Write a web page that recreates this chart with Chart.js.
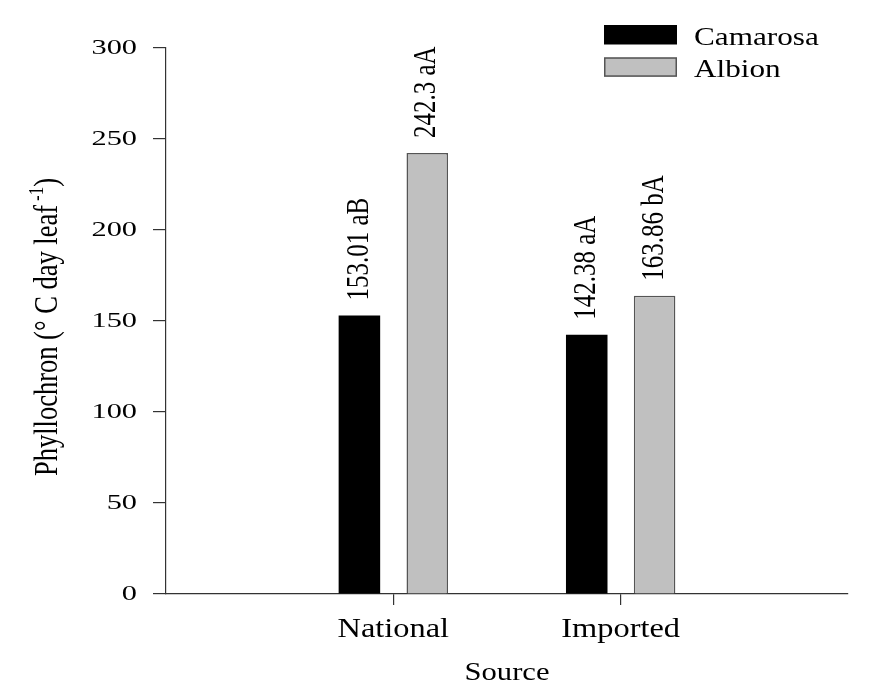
<!DOCTYPE html>
<html>
<head>
<meta charset="utf-8">
<script src="https://cdn.jsdelivr.net/npm/chart.js@4/dist/chart.umd.min.js"></script>
<style>
  body { margin: 0; background: #fff; }
  #chart_container { width: 890px; height: 686px; }
</style>
</head>
<body>
<div id="chart_container"><canvas id="myChart" width="890" height="686"></canvas></div>
<script>
/* data */
const categories = ['National', 'Imported'];
const camarosa = [153.01, 142.38];
const albion = [242.3, 163.86];
const camarosaTags = ['153.01 aB', '142.38 aA'];
const albionTags = ['242.3 aA', '163.86 bA'];
const yTicks = [0, 50, 100, 150, 200, 250, 300];

/* empty slots at both ends so the two groups sit at 1/3 and 2/3 of the axis */
const axisLabels = [''].concat(categories, ['']);
const serif = '"Liberation Serif", "Times New Roman", serif';

/* the original text is a bit wide, so stretch it sideways */
function drawText(ctx, text, x, y, size, sx, align, baseline) {
    ctx.save();
    ctx.translate(x, y);
    ctx.scale(sx, 1);
    ctx.font = size + 'px ' + serif;
    ctx.textAlign = align;
    ctx.textBaseline = baseline;
    ctx.fillStyle = '#000';
    ctx.fillText(text, 0, 0);
    ctx.restore();
}

const textPlugin = {
    id: 'textPlugin',
    afterDraw(chart) {
        const ctx = chart.ctx;
        const area = chart.chartArea;
        const xs = chart.scales.x;
        const ys = chart.scales.y;

        /* y tick labels */
        ys.ticks.forEach(t => {
            drawText(ctx, String(t.value), xs.left - 29, ys.getPixelForValue(t.value), 22, 1.38, 'right', 'middle');
        });

        /* x tick labels and axis title */
        categories.forEach((c, i) => {
            drawText(ctx, c, xs.getPixelForValue(i + 1), area.bottom + 43, 27, 1.2, 'center', 'alphabetic');
        });
        drawText(ctx, 'Source', (area.left + area.right) / 2, area.bottom + 86, 25.5, 1.2, 'center', 'alphabetic');

        /* rotated value labels above bars */
        const tags = [camarosaTags, albionTags];
        chart.data.datasets.forEach((ds, d) => {
            chart.getDatasetMeta(d).data.forEach((bar, i) => {
                const tag = tags[d][i - 1];
                if (!tag) return;
                ctx.save();
                ctx.translate(bar.x, bar.y - 15);
                ctx.rotate(-Math.PI / 2);
                ctx.scale(1, 1.25);
                ctx.font = '25px ' + serif;
                ctx.textAlign = 'left';
                ctx.textBaseline = 'middle';
                ctx.fillStyle = '#000';
                ctx.fillText(tag, 0, 0);
                ctx.restore();
            });
        });

        /* y axis title with superscript */
        ctx.save();
        ctx.translate(57, (area.top + area.bottom) / 2 + 6);
        ctx.rotate(-Math.PI / 2);
        ctx.scale(1, 1.24);
        ctx.fillStyle = '#000';
        ctx.textBaseline = 'alphabetic';
        ctx.textAlign = 'left';
        const mainFont = '26.5px ' + serif;
        const supFont = '17px ' + serif;
        const part1 = 'Phyllochron (\u00B0 C day leaf';
        const sup = '-1';
        const part3 = ')';
        ctx.font = mainFont;
        const w1 = ctx.measureText(part1).width;
        const w3 = ctx.measureText(part3).width;
        ctx.font = supFont;
        const w2 = ctx.measureText(sup).width;
        const gap = 4;
        let x0 = -(w1 + gap + w2 + w3) / 2;
        ctx.font = mainFont;
        ctx.fillText(part1, x0, 0);
        x0 += w1 + gap;
        ctx.font = supFont;
        ctx.fillText(sup, x0, -11);
        x0 += w2;
        ctx.font = mainFont;
        ctx.fillText(part3, x0, 0);
        ctx.restore();

        /* legend */
        chart.data.datasets.forEach((ds, d) => {
            const by = 25 + d * 32.3;
            ctx.save();
            ctx.fillStyle = ds.backgroundColor;
            ctx.fillRect(604, by, 73, 19.5);
            if (ds.borderWidth) {
                ctx.strokeStyle = ds.borderColor;
                ctx.lineWidth = 1.5;
                ctx.strokeRect(604.75, by + 0.75, 71.5, 18);
            }
            ctx.restore();
            drawText(ctx, ds.label, 694, 45 + d * 31.7, 26, 1.2, 'left', 'alphabetic');
        });
    }
};

const ctx = document.getElementById('myChart').getContext('2d');
const myChart = new Chart(ctx, {
    type: 'bar',
    data: {
        labels: axisLabels,
        datasets: [{
            label: 'Camarosa',
            data: [null].concat(camarosa, [null]),
            backgroundColor: '#000000',
            borderColor: '#000000',
            borderWidth: 0,
            categoryPercentage: 0.597,
            barPercentage: 0.612
        },
        {
            label: 'Albion',
            data: [null].concat(albion, [null]),
            backgroundColor: '#c0c0c0',
            borderColor: '#555555',
            borderWidth: 1.5,
            categoryPercentage: 0.597,
            barPercentage: 0.612
        }]
    },
    options: {
        responsive: false,
        animation: false,
        layout: { padding: { left: 0, right: 42, top: 48, bottom: 0 } },
        plugins: {
            legend: { display: false },
            tooltip: { enabled: false }
        },
        scales: {
            x: {
                type: 'category',
                offset: false,
                grid: {
                    offset: false,
                    drawOnChartArea: false,
                    drawTicks: true,
                    tickLength: 11,
                    lineWidth: 1.2,
                    tickColor: c => axisLabels[c.index] ? '#333333' : 'rgba(0,0,0,0)'
                },
                border: { color: '#333333', width: 1.2 },
                ticks: { color: 'rgba(0,0,0,0)', autoSkip: false, maxRotation: 0, font: { size: 12 } },
                afterFit: s => { s.height = 92; }
            },
            y: {
                min: 0,
                max: 300,
                afterBuildTicks: s => { s.ticks = yTicks.map(v => ({ value: v })); },
                grid: {
                    drawOnChartArea: false,
                    tickLength: 13,
                    lineWidth: 1.2,
                    tickColor: '#333333'
                },
                border: { color: '#333333', width: 1.2 },
                ticks: { color: 'rgba(0,0,0,0)', font: { size: 12 } },
                afterFit: s => { s.width = 166; }
            }
        }
    },
    plugins: [textPlugin]
});
</script>
</body>
</html>
